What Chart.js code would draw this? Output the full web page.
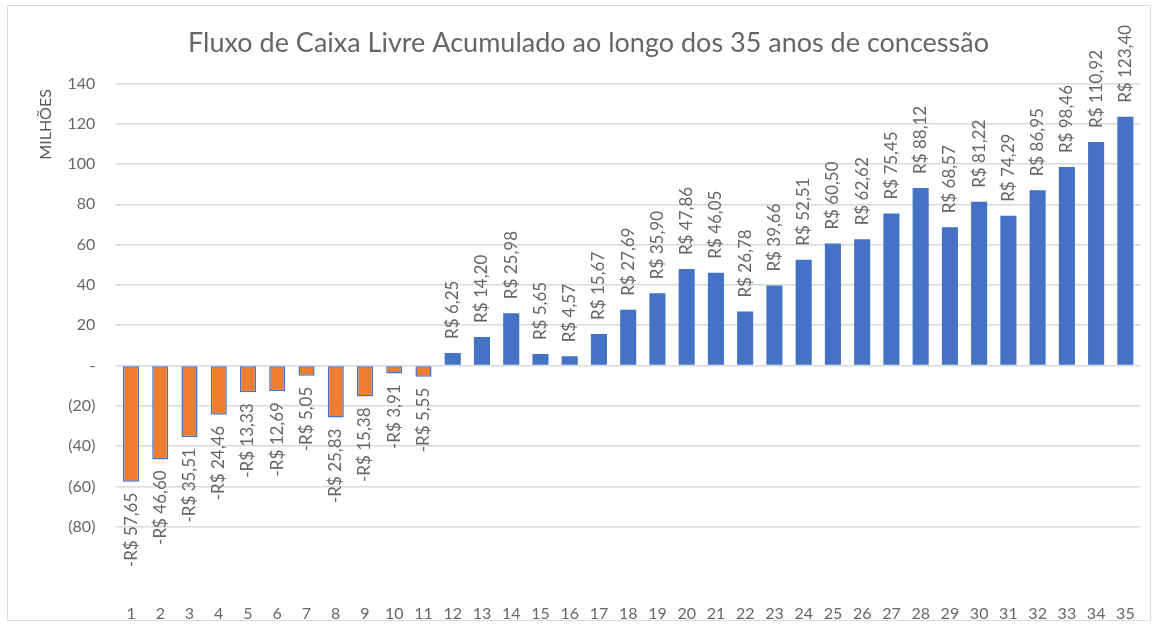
<!DOCTYPE html>
<html>
<head>
<meta charset="utf-8">
<script src="https://cdn.jsdelivr.net/npm/chart.js@4.4.1/dist/chart.umd.min.js"></script>
<style>
  html, body { margin: 0; padding: 0; background: #fff; overflow: hidden; }
  #wrap { position: absolute; left: 7px; top: 5px; width: 1144px; height: 616px; border: 1.5px solid #d9d9d9; box-sizing: border-box; }
  #box { position: absolute; left: 0; top: 0; width: 1155px; height: 628px; }
  #box canvas { display: block; }
</style>
</head>
<body>
<div id="wrap"></div>
<div id="box"><canvas id="mychart"></canvas></div>
<script>
var anos = []
for (var i = 1; i <= 35; i++) anos.push(String(i))

var fluxo = [-57.65, -46.60, -35.51, -24.46, -13.33, -12.69, -5.05, -25.83, -15.38, -3.91, -5.55,
             6.25, 14.20, 25.98, 5.65, 4.57, 15.67, 27.69, 35.90, 47.86, 46.05, 26.78, 39.66,
             52.51, 60.50, 62.62, 75.45, 88.12, 68.57, 81.22, 74.29, 86.95, 98.46, 110.92, 123.40]

var yTicks = [140, 120, 100, 80, 60, 40, 20, 0, -20, -40, -60, -80]

var cinza = '#595959'
var fonte = "Lato, 'Open Sans', sans-serif"

function moeda(v) {
    var s = 'R$ ' + Math.abs(v).toFixed(2).replace('.', ',')
    return v < 0 ? '-' + s : s
}

// rotated value labels, like excel data labels
var rotulos = {
    id: 'rotulos',
    afterDatasetsDraw: function(chart) {
        var ctx = chart.ctx
        var meta = chart.getDatasetMeta(0)
        ctx.save()
        ctx.font = '17px ' + fonte
        ctx.fillStyle = '#666666'
        ctx.textBaseline = 'middle'
        meta.data.forEach(function(bar, i) {
            var v = fluxo[i]
            ctx.save()
            ctx.translate(bar.x, bar.y + (v < 0 ? 11 : -14))
            ctx.rotate(-Math.PI / 2)
            ctx.textAlign = v < 0 ? 'right' : 'left'
            ctx.fillText(moeda(v), 0, 0)
            ctx.restore()
        })
        // axis unit label, sits near the top of the axis
        ctx.font = '16px ' + fonte
        ctx.fillStyle = cinza
        ctx.translate(46, chart.chartArea.top + 41)
        ctx.rotate(-Math.PI / 2)
        ctx.textAlign = 'center'
        ctx.fillText('MILHÕES', 0, 0)
        ctx.restore()
    }
}

var myChart = document.getElementById('mychart').getContext('2d')

var chart = new Chart(myChart, {
    type: 'bar',
    data: {
        labels: anos,
        datasets: [{
            label: 'Fluxo de Caixa Livre Acumulado',
            data: fluxo,
            backgroundColor: fluxo.map(function(v) { return v < 0 ? '#ED7D31' : '#4472C4' }),
            borderColor: '#4472C4',
            borderWidth: fluxo.map(function(v) { return v < 0 ? 1.5 : 0 }),
            borderSkipped: false,
            barPercentage: 0.55,
            categoryPercentage: 1
        }]
    },
    options: {
        responsive: true,
        maintainAspectRatio: false,
        animation: false,
        layout: { padding: { left: 37, right: 15, top: 0, bottom: 0 } },
        plugins: {
            legend: { display: false },
            tooltip: { enabled: false },
            title: {
                display: true,
                text: 'Fluxo de Caixa Livre Acumulado ao longo dos 35 anos de concessão',
                color: '#666666',
                font: { family: fonte, size: 27, weight: 'normal' },
                padding: { top: 27, bottom: 24 }
            }
        },
        scales: {
            x: {
                grid: { display: false },
                border: { display: false },
                ticks: {
                    color: '#666666',
                    font: { family: fonte, size: 16 },
                    padding: 70,
                    maxRotation: 0,
                    autoSkip: false
                },
                afterFit: function(scale) {
                    scale.height = 101.3
                    scale.paddingLeft = 0
                    scale.paddingRight = 0
                }
            },
            y: {
                min: -80,
                max: 140,
                border: { display: false },
                grid: { color: '#d9d9d9', lineWidth: 1.5, drawTicks: false },
                afterBuildTicks: function(scale) {
                    scale.ticks = yTicks.map(function(v) { return { value: v } })
                },
                ticks: {
                    color: '#666666',
                    font: { family: fonte, size: 16 },
                    padding: 21,
                    callback: function(v) {
                        if (v === 0) return '-'
                        return v < 0 ? '(' + Math.abs(v) + ')' : v
                    }
                },
                afterFit: function(scale) { scale.width = 79.4 }
            }
        }
    },
    plugins: [rotulos]
})
</script>
</body>
</html>
